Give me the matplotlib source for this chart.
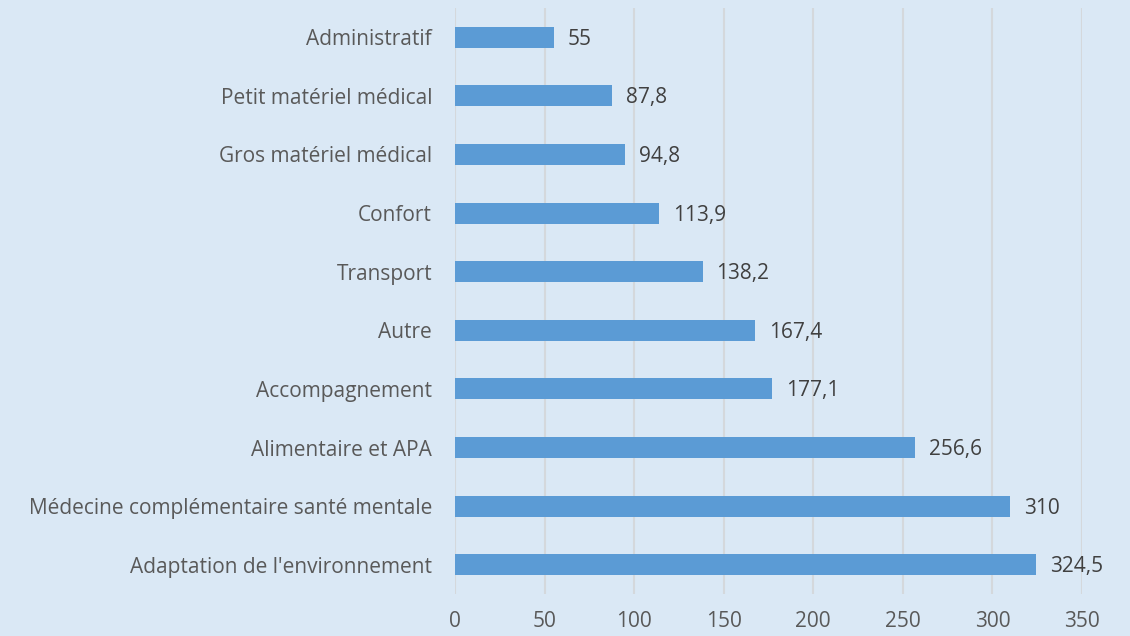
import matplotlib
matplotlib.use('Agg')
import matplotlib.pyplot as plt

categories = ['Adaptation de l\'environnement', 'Médecine complémentaire santé mentale',
              'Alimentaire et APA', 'Accompagnement', 'Autre', 'Transport', 'Confort',
              'Gros matériel médical', 'Petit matériel médical', 'Administratif']
values = [324.5, 310, 256.6, 177.1, 167.4, 138.2, 113.9, 94.8, 87.8, 55]
value_labels = ['324,5', '310', '256,6', '177,1', '167,4', '138,2', '113,9', '94,8', '87,8', '55']
xticks = [0, 50, 100, 150, 200, 250, 300, 350]

bg = '#DAE8F5'
plt.rcParams['font.family'] = ['Open Sans', 'DejaVu Sans']

fig = plt.figure(figsize=(11.3, 6.36), dpi=100, facecolor=bg)
ax = fig.add_axes([455 / 1130, 1 - 594 / 636, 627 / 1130, 586 / 636], facecolor=bg)

ypos = range(len(categories))
ax.barh(ypos, values, height=0.36, color='#5B9BD5', zorder=3)
for y, v, lab in zip(ypos, values, value_labels):
    ax.annotate(lab, (v, y), xytext=(10, -1.5), textcoords='offset points',
                va='center', ha='left', fontsize=15, color='#404040')

ax.set_xlim(0, 350)
ax.set_ylim(-0.5, len(categories) - 0.5)
ax.set_xticks(xticks)
ax.set_yticks(list(ypos))
ax.set_yticklabels(categories)
ax.tick_params(axis='both', length=0, labelsize=15, labelcolor='#595959')
ax.tick_params(axis='y', pad=16.5)
ax.tick_params(axis='x', pad=12)
ax.grid(axis='x', color='#D4D8DC', linewidth=1.5, zorder=0)
for s in ax.spines.values():
    s.set_visible(False)

fig.savefig('out.png', dpi=100, facecolor=bg)
